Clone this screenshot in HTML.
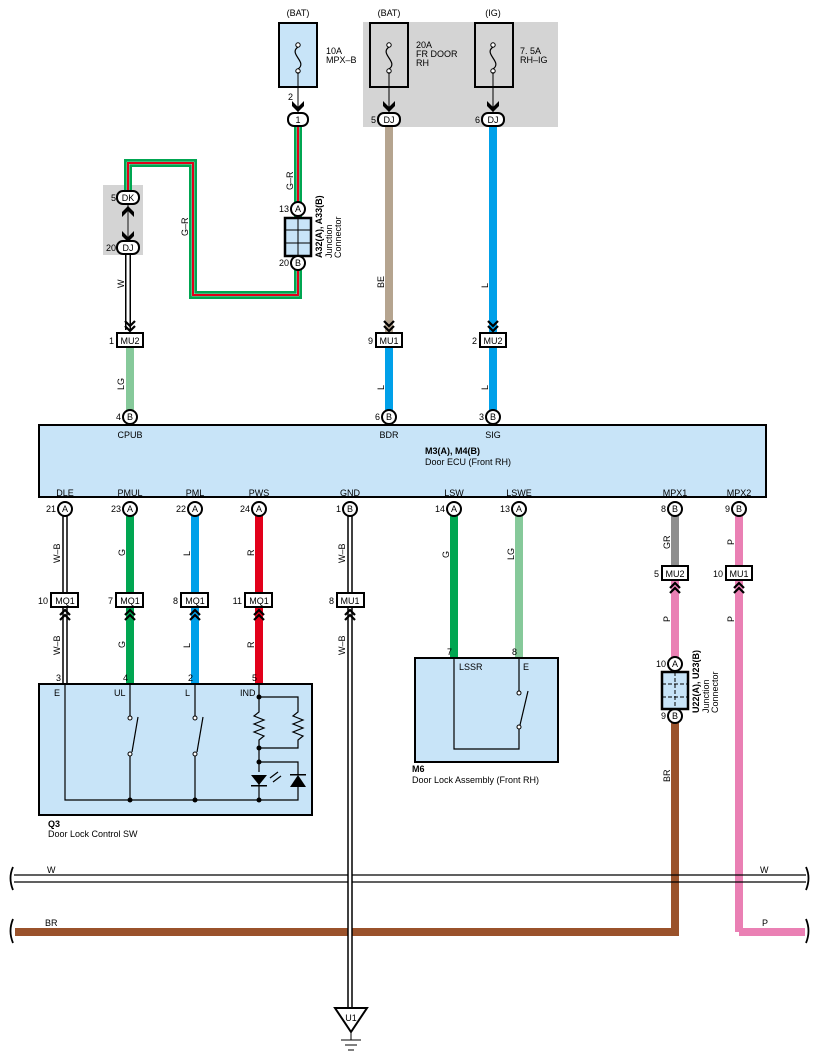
<!DOCTYPE html>
<html><head><meta charset="utf-8"><style>
html,body{margin:0;padding:0;background:#fff;}
svg{display:block;font-family:"Liberation Sans",sans-serif;}
text{fill:#000;}
</style></head><body>
<svg width="818" height="1062" viewBox="0 0 818 1062" xmlns="http://www.w3.org/2000/svg">
<defs>
<g id="chevD"><polyline points="-5,-9 0,-4 5,-9" fill="none" stroke="#000" stroke-width="2.2"/><polyline points="-5,-4 0,1 5,-4" fill="none" stroke="#000" stroke-width="2.2"/></g>
<g id="chevU"><polyline points="-5,9 0,4 5,9" fill="none" stroke="#000" stroke-width="2.2"/><polyline points="-5,4 0,-1 5,4" fill="none" stroke="#000" stroke-width="2.2"/></g>
<g id="fuse"><circle cx="0" cy="-13" r="2.2" fill="#fff" stroke="#000" stroke-width="1"/><circle cx="0" cy="13" r="2.2" fill="#fff" stroke="#000" stroke-width="1"/><path d="M0,-11 C-10,-4 10,4 0,11" fill="none" stroke="#000" stroke-width="1.2"/></g>
</defs>

<rect x="363" y="22" width="195" height="105" fill="#d4d4d4"/>
<rect x="103" y="185" width="40" height="70" fill="#d4d4d4"/>

<text x="298" y="16" font-size="9" text-anchor="middle">(BAT)</text>
<text x="389" y="16" font-size="9" text-anchor="middle">(BAT)</text>
<text x="493" y="16" font-size="9" text-anchor="middle">(IG)</text>
<rect x="279" y="23" width="38" height="64" fill="#c8e4f8" stroke="#000" stroke-width="2"/>
<rect x="370" y="23" width="38" height="64" fill="none" stroke="#000" stroke-width="2"/>
<rect x="475" y="23" width="38" height="64" fill="none" stroke="#000" stroke-width="2"/>
<use href="#fuse" x="298" y="58"/><use href="#fuse" x="389" y="58"/><use href="#fuse" x="493" y="58"/>
<text x="326" y="54" font-size="9">10A</text><text x="326" y="63" font-size="9">MPX–B</text>
<text x="416" y="48" font-size="9">20A</text><text x="416" y="57" font-size="9">FR DOOR</text><text x="416" y="66" font-size="9">RH</text>
<text x="520" y="54" font-size="9">7. 5A</text><text x="520" y="63" font-size="9">RH–IG</text>
<line x1="298" y1="72" x2="298" y2="112" stroke="#000" stroke-width="1"/>
<line x1="389" y1="72" x2="389" y2="112" stroke="#000" stroke-width="1"/>
<line x1="493" y1="72" x2="493" y2="112" stroke="#000" stroke-width="1"/>
<g fill="#000"><polygon points="292,101 298,107 304,101 304,106 298,112 292,106"/><polygon points="383,101 389,107 395,101 395,106 389,112 383,106"/><polygon points="487,101 493,107 499,101 499,106 493,112 487,106"/></g>
<text x="293" y="100" font-size="9" text-anchor="end">2</text>

<line x1="389" y1="126" x2="389" y2="335" stroke="#b5a48f" stroke-width="8"/>
<line x1="493" y1="126" x2="493" y2="335" stroke="#00a0e9" stroke-width="8"/>
<line x1="389" y1="347" x2="389" y2="412" stroke="#00a0e9" stroke-width="8"/>
<line x1="493" y1="347" x2="493" y2="412" stroke="#00a0e9" stroke-width="8"/>
<line x1="130" y1="347" x2="130" y2="412" stroke="#86c99a" stroke-width="8"/>
<polyline points="298,126 298,295 193,295 193,163 128,163 128,190" fill="none" stroke="#00a651" stroke-width="8"/>
<polyline points="298,126 298,295 193,295 193,163 128,163 128,190" fill="none" stroke="#fff" stroke-width="2.6"/>
<polyline points="298,126 298,295 193,295 193,163 128,163 128,190" fill="none" stroke="#e2001a" stroke-width="2"/>
<rect x="285" y="218" width="26" height="38" fill="#c8e4f8" stroke="#000" stroke-width="2.5"/>
<line x1="285" y1="230" x2="311" y2="230" stroke="#000"/><line x1="285" y1="243" x2="311" y2="243" stroke="#000"/><line x1="298" y1="218" x2="298" y2="256" stroke="#000"/>
<text transform="translate(322,258) rotate(-90)" font-size="9" font-weight="bold">A32(A), A33(B)</text>
<text transform="translate(332,258) rotate(-90)" font-size="9">Junction</text>
<text transform="translate(341,258) rotate(-90)" font-size="9">Connector</text>
<line x1="128" y1="204" x2="128" y2="240" stroke="#555" stroke-width="1.5"/>
<polygon points="122,212 128,206 134,212 134,217 128,211 122,217" fill="#000"/>
<polygon points="122,231 128,237 134,231 134,236 128,242 122,236" fill="#000"/>
<line x1="128" y1="254" x2="128" y2="330" stroke="#000" stroke-width="6"/>
<line x1="128" y1="254" x2="128" y2="330" stroke="#fff" stroke-width="3"/>
<use href="#chevD" x="130" y="330"/><use href="#chevD" x="389" y="330"/><use href="#chevD" x="493" y="330"/>

<g stroke="#000" stroke-width="2" fill="#fff">
<rect x="288" y="113" width="20" height="13" rx="6"/>
<rect x="378" y="113" width="22" height="13" rx="6"/>
<rect x="482" y="113" width="22" height="13" rx="6"/>
<circle cx="298" cy="209" r="7"/><circle cx="298" cy="263" r="7"/>
<rect x="117" y="191" width="22" height="13" rx="6"/>
<rect x="117" y="241" width="22" height="13" rx="6"/>
<rect x="117" y="333" width="26" height="14"/>
<rect x="376" y="333" width="26" height="14"/>
<rect x="480" y="333" width="26" height="14"/>
<circle cx="130" cy="417" r="7"/><circle cx="389" cy="417" r="7"/><circle cx="493" cy="417" r="7"/>
</g>
<g font-size="9" text-anchor="middle">
<text x="298" y="123">1</text><text x="389" y="123">DJ</text><text x="493" y="123">DJ</text>
<text x="298" y="212">A</text><text x="298" y="266">B</text>
<text x="128" y="201">DK</text><text x="128" y="251">DJ</text>
<text x="130" y="344">MU2</text><text x="389" y="344">MU1</text><text x="493" y="344">MU2</text>
<text x="130" y="420">B</text><text x="389" y="420">B</text><text x="493" y="420">B</text>
</g>
<g font-size="9" text-anchor="end">
<text x="376" y="123">5</text><text x="480" y="123">6</text>
<text x="289" y="212">13</text><text x="289" y="266">20</text>
<text x="116" y="201">5</text><text x="116" y="251">20</text>
<text x="114" y="344">1</text><text x="373" y="344">9</text><text x="477" y="344">2</text>
<text x="121" y="420">4</text><text x="380" y="420">6</text><text x="484" y="420">3</text>
</g>
<g font-size="9">
<text transform="translate(293,190) rotate(-90)">G–R</text>
<text transform="translate(188,236) rotate(-90)">G–R</text>
<text transform="translate(124,288) rotate(-90)">W</text>
<text transform="translate(384,288) rotate(-90)">BE</text>
<text transform="translate(488,288) rotate(-90)">L</text>
<text transform="translate(124,390) rotate(-90)">LG</text>
<text transform="translate(384,390) rotate(-90)">L</text>
<text transform="translate(488,390) rotate(-90)">L</text>
</g>

<rect x="39" y="425" width="727" height="72" fill="#c8e4f8" stroke="#000" stroke-width="2"/>
<g font-size="9" text-anchor="middle">
<text x="130" y="438">CPUB</text><text x="389" y="438">BDR</text><text x="493" y="438">SIG</text>
<text x="65" y="496">DLE</text><text x="130" y="496">PMUL</text><text x="195" y="496">PML</text><text x="259" y="496">PWS</text>
<text x="350" y="496">GND</text><text x="454" y="496">LSW</text><text x="519" y="496">LSWE</text><text x="675" y="496">MPX1</text><text x="739" y="496">MPX2</text>
</g>
<text x="425" y="454" font-size="9" font-weight="bold">M3(A), M4(B)</text>
<text x="425" y="465" font-size="9">Door ECU (Front RH)</text>

<line x1="130" y1="515" x2="130" y2="684" stroke="#00a651" stroke-width="8"/>
<line x1="195" y1="515" x2="195" y2="684" stroke="#00a0e9" stroke-width="8"/>
<line x1="259" y1="515" x2="259" y2="684" stroke="#e2001a" stroke-width="8"/>
<line x1="454" y1="515" x2="454" y2="658" stroke="#00a651" stroke-width="8"/>
<line x1="519" y1="515" x2="519" y2="658" stroke="#86c99a" stroke-width="8"/>
<line x1="675" y1="515" x2="675" y2="566" stroke="#8e8e8e" stroke-width="8"/>
<line x1="675" y1="580" x2="675" y2="660" stroke="#ea80b4" stroke-width="8"/>
<line x1="739" y1="515" x2="739" y2="932" stroke="#ea80b4" stroke-width="8"/>
<polyline points="739,932 805,932" fill="none" stroke="#ea80b4" stroke-width="8"/>
<polyline points="675,715 675,932 15,932" fill="none" stroke="#9a522b" stroke-width="8"/>
<line x1="14" y1="875" x2="806" y2="875" stroke="#000" stroke-width="1.2"/>
<line x1="14" y1="882" x2="806" y2="882" stroke="#000" stroke-width="1.2"/>
<g fill="none" stroke="#000" stroke-width="1.8">
<path d="M13,867 Q8,878 13,890"/><path d="M806,867 Q811,878 806,890"/>
<path d="M13,919 Q8,931 13,943"/><path d="M806,919 Q811,931 806,943"/>
</g>
<text x="47" y="873" font-size="9">W</text><text x="760" y="873" font-size="9">W</text>
<text x="45" y="926" font-size="9">BR</text><text x="762" y="926" font-size="9">P</text>
<g stroke="#000" stroke-width="5.5"><line x1="65" y1="515" x2="65" y2="684"/><line x1="350" y1="515" x2="350" y2="1012"/></g>
<g stroke="#fff" stroke-width="2.5"><line x1="65" y1="515" x2="65" y2="684"/><line x1="350" y1="515" x2="350" y2="1012"/></g>
<polygon points="335,1008 367,1008 351,1032" fill="#fff" stroke="#000" stroke-width="2"/>
<text x="351" y="1021" font-size="9" text-anchor="middle">U1</text>
<line x1="351" y1="1032" x2="351" y2="1040" stroke="#000"/>
<line x1="341" y1="1040" x2="361" y2="1040" stroke="#000"/>
<line x1="345" y1="1045" x2="357" y2="1045" stroke="#000"/>
<line x1="348" y1="1050" x2="354" y2="1050" stroke="#000"/>

<use href="#chevU" x="65" y="611"/><use href="#chevU" x="130" y="611"/><use href="#chevU" x="195" y="611"/><use href="#chevU" x="259" y="611"/><use href="#chevU" x="350" y="611"/><use href="#chevU" x="675" y="584"/><use href="#chevU" x="739" y="584"/>

<g stroke="#000" stroke-width="2" fill="#fff">
<circle cx="65" cy="509" r="7"/><circle cx="130" cy="509" r="7"/><circle cx="195" cy="509" r="7"/><circle cx="259" cy="509" r="7"/><circle cx="350" cy="509" r="7"/><circle cx="454" cy="509" r="7"/><circle cx="519" cy="509" r="7"/><circle cx="675" cy="509" r="7"/><circle cx="739" cy="509" r="7"/>
<rect x="51" y="593" width="27" height="14"/><rect x="116" y="593" width="27" height="14"/><rect x="181" y="593" width="27" height="14"/><rect x="245" y="593" width="27" height="14"/><rect x="337" y="593" width="27" height="14"/>
<rect x="662" y="566" width="26" height="14"/><rect x="726" y="566" width="26" height="14"/>
<circle cx="675" cy="664" r="7"/><circle cx="675" cy="716" r="7"/>
</g>
<g font-size="9" text-anchor="middle">
<text x="65" y="512">A</text><text x="130" y="512">A</text><text x="195" y="512">A</text><text x="259" y="512">A</text><text x="350" y="512">B</text><text x="454" y="512">A</text><text x="519" y="512">A</text><text x="675" y="512">B</text><text x="739" y="512">B</text>
<text x="65" y="604">MQ1</text><text x="130" y="604">MQ1</text><text x="195" y="604">MQ1</text><text x="259" y="604">MQ1</text><text x="350" y="604">MU1</text>
<text x="675" y="577">MU2</text><text x="739" y="577">MU1</text>
<text x="675" y="667">A</text><text x="675" y="719">B</text>
</g>
<g font-size="9" text-anchor="end">
<text x="56" y="512">21</text><text x="121" y="512">23</text><text x="186" y="512">22</text><text x="250" y="512">24</text><text x="341" y="512">1</text><text x="445" y="512">14</text><text x="510" y="512">13</text><text x="666" y="512">8</text><text x="730" y="512">9</text>
<text x="48" y="604">10</text><text x="113" y="604">7</text><text x="178" y="604">8</text><text x="242" y="604">11</text><text x="334" y="604">8</text>
<text x="659" y="577">5</text><text x="723" y="577">10</text>
<text x="666" y="667">10</text><text x="666" y="719">9</text>
<text x="61" y="681">3</text><text x="128" y="681">4</text><text x="193" y="681">2</text><text x="257" y="681">5</text>
<text x="452" y="655">7</text><text x="517" y="655">8</text>
</g>
<g font-size="9">
<text transform="translate(60,563) rotate(-90)">W–B</text>
<text transform="translate(60,655) rotate(-90)">W–B</text>
<text transform="translate(125,556) rotate(-90)">G</text><text transform="translate(125,648) rotate(-90)">G</text>
<text transform="translate(190,556) rotate(-90)">L</text><text transform="translate(190,648) rotate(-90)">L</text>
<text transform="translate(254,556) rotate(-90)">R</text><text transform="translate(254,648) rotate(-90)">R</text>
<text transform="translate(345,563) rotate(-90)">W–B</text>
<text transform="translate(345,655) rotate(-90)">W–B</text>
<text transform="translate(449,558) rotate(-90)">G</text>
<text transform="translate(514,560) rotate(-90)">LG</text>
<text transform="translate(670,549) rotate(-90)">GR</text>
<text transform="translate(734,545) rotate(-90)">P</text>
<text transform="translate(670,622) rotate(-90)">P</text>
<text transform="translate(734,622) rotate(-90)">P</text>
<text transform="translate(670,782) rotate(-90)">BR</text>
</g>
<rect x="662" y="672" width="26" height="37" fill="#c8e4f8" stroke="#000" stroke-width="2.5"/>
<line x1="662" y1="684" x2="688" y2="684" stroke="#000" stroke-dasharray="4,2"/><line x1="662" y1="697" x2="688" y2="697" stroke="#000" stroke-dasharray="4,2"/><line x1="675" y1="672" x2="675" y2="709" stroke="#000" stroke-dasharray="4,2"/>
<text transform="translate(699,713) rotate(-90)" font-size="9" font-weight="bold">U22(A), U23(B)</text>
<text transform="translate(709,713) rotate(-90)" font-size="9">Junction</text>
<text transform="translate(718,713) rotate(-90)" font-size="9">Connector</text>

<rect x="39" y="684" width="273" height="131" fill="#c8e4f8" stroke="#000" stroke-width="2"/>
<g font-size="9"><text x="54" y="696">E</text><text x="114" y="696">UL</text><text x="185" y="696">L</text><text x="240" y="696">IND</text></g>
<g fill="none" stroke="#000" stroke-width="1.2">
<polyline points="65,684 65,800 298,800 298,783"/>
<line x1="130" y1="684" x2="130" y2="718"/><line x1="130" y1="754" x2="130" y2="800"/><line x1="132" y1="752" x2="138" y2="717"/>
<line x1="195" y1="684" x2="195" y2="718"/><line x1="195" y1="754" x2="195" y2="800"/><line x1="197" y1="752" x2="203" y2="717"/>
<polyline points="259,684 259,708 259,712 254,716 264,720 254,724 264,728 254,732 264,736 259,740 259,762 259,772"/>
<polyline points="259,697 298,697 298,712 293,716 303,720 293,724 303,728 293,732 303,736 298,740 298,748 259,748"/>
<polyline points="259,762 298,762 298,775"/>
<line x1="259" y1="783" x2="259" y2="800"/>
<line x1="270" y1="778" x2="278" y2="772"/><line x1="273" y1="782" x2="281" y2="776"/>
</g>
<g fill="#fff" stroke="#000"><circle cx="130" cy="718" r="2"/><circle cx="130" cy="754" r="2"/><circle cx="195" cy="718" r="2"/><circle cx="195" cy="754" r="2"/></g>
<g fill="#000">
<circle cx="259" cy="697" r="2.5"/><circle cx="259" cy="748" r="2.5"/><circle cx="259" cy="762" r="2.5"/><circle cx="130" cy="800" r="2.5"/><circle cx="195" cy="800" r="2.5"/><circle cx="259" cy="800" r="2.5"/>
<polygon points="251,775 267,775 259,785"/><rect x="251" y="785" width="16" height="1.5"/>
<polygon points="290,787 306,787 298,775"/><rect x="290" y="774" width="16" height="1.5"/>
</g>
<text x="48" y="827" font-size="9" font-weight="bold">Q3</text>
<text x="48" y="837" font-size="9">Door Lock Control SW</text>

<rect x="415" y="658" width="143" height="104" fill="#c8e4f8" stroke="#000" stroke-width="2"/>
<g font-size="9"><text x="459" y="670">LSSR</text><text x="523" y="670">E</text></g>
<g fill="none" stroke="#000" stroke-width="1.2">
<polyline points="454,658 454,749 519,749 519,727"/>
<line x1="519" y1="658" x2="519" y2="693"/>
<line x1="520" y1="725" x2="528" y2="691"/>
</g>
<g fill="#fff" stroke="#000"><circle cx="519" cy="693" r="2"/><circle cx="519" cy="727" r="2"/></g>
<text x="412" y="772" font-size="9" font-weight="bold">M6</text>
<text x="412" y="783" font-size="9">Door Lock Assembly (Front RH)</text>
</svg>
</body></html>
